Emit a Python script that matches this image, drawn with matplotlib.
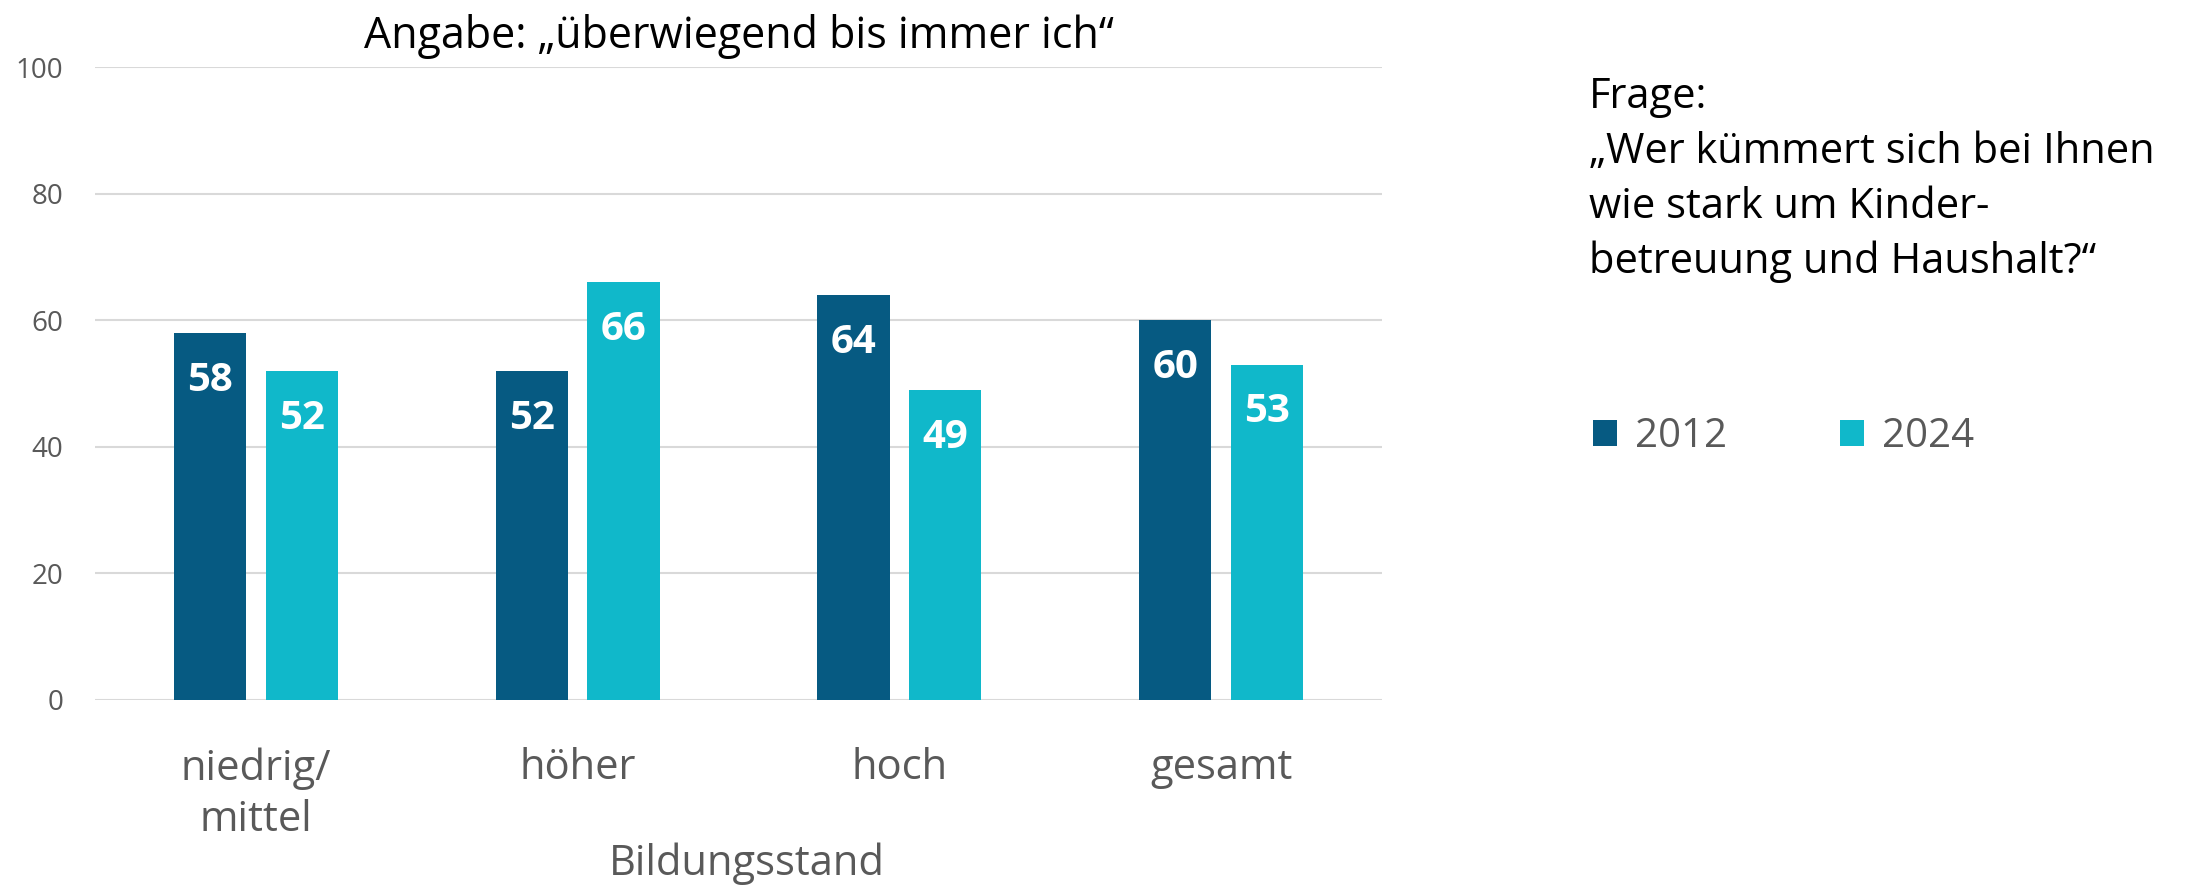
import matplotlib.pyplot as plt
import numpy as np

plt.rcParams['font.family'] = ['Open Sans', 'DejaVu Sans']

# Daten
kategorien = ['niedrig/\nmittel', 'höher', 'hoch', 'gesamt']
werte_2012 = [58, 52, 64, 60]
werte_2024 = [52, 66, 49, 53]
jahre = ['2012', '2024']

farbe_2012 = '#065A82'
farbe_2024 = '#10B8CA'
grau = '#595959'

fig = plt.figure(figsize=(21.85, 8.85), dpi=100)
ax = fig.add_axes([95/2185, 185/885, 1287/2185, 633/885])

x = np.arange(len(kategorien))
breite = 0.225
versatz = breite/2 + 0.03

b1 = ax.bar(x - versatz, werte_2012, breite, color=farbe_2012, label=jahre[0], zorder=3)
b2 = ax.bar(x + versatz, werte_2024, breite, color=farbe_2024, label=jahre[1], zorder=3)

# Werte in die Balken schreiben
for balken in (b1, b2):
    for rect in balken:
        ax.annotate(f'{rect.get_height():.0f}',
                    (rect.get_x() + rect.get_width()/2, rect.get_height()),
                    xytext=(0, -34), textcoords='offset points',
                    ha='center', va='center', color='white',
                    fontsize=29, fontweight='bold', zorder=4)

ax.set_xlim(-0.5, len(kategorien) - 0.5)
ax.set_ylim(0, 100)
ax.set_yticks(range(0, 101, 20))
ax.yaxis.grid(True, color='#D9D9D9', linewidth=1.5, zorder=0)
ax.set_axisbelow(True)
for s in ax.spines.values():
    s.set_visible(False)
ax.tick_params(axis='both', length=0)
ax.tick_params(axis='y', labelsize=20, labelcolor=grau, pad=23)
ax.set_xticks(x)
ax.set_xticklabels(kategorien, fontsize=30, color=grau, linespacing=1.3)
ax.tick_params(axis='x', pad=34)

ax.set_title('Angabe: „überwiegend bis immer ich“', fontsize=31, pad=14)
fig.text(747/2185, 1 - 864/885, 'Bildungsstand', fontsize=30, color=grau,
         ha='center', va='center')

# Frage rechts
fig.text(1589/2185, 1 - 76/885, 'Frage:\n„Wer kümmert sich bei Ihnen\nwie stark um Kinder-\nbetreuung und Haushalt?“',
         fontsize=30, ha='left', va='top', linespacing=1.4)

fig.legend(handles=[b1, b2], loc='center left', bbox_to_anchor=(1593/2185, 1 - 437/885),
           ncol=2, frameon=False, fontsize=29, labelcolor=grau, borderpad=0, borderaxespad=0,
           handlelength=0.6, handleheight=0.6, handletextpad=0.45, columnspacing=2.8)

fig.savefig('out.png', dpi=100)
